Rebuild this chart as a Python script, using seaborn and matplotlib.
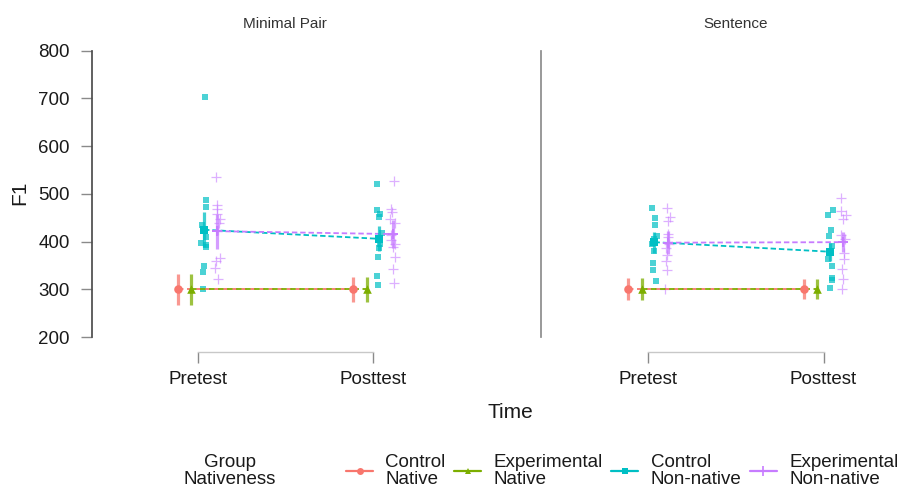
import numpy as np
import pandas as pd
import matplotlib
matplotlib.use("Agg")
import matplotlib.pyplot as plt
from matplotlib.lines import Line2D
from matplotlib.transforms import blended_transform_factory
import seaborn as sns

# ---------------- data ----------------
panels = ["Minimal Pair", "Sentence"]
times = ["Pretest", "Posttest"]
groups = ["Control\nNative", "Experimental\nNative", "Control\nNon-native", "Experimental\nNon-native"]

# raw F1 values (non-native learners)
mp_pre_control_nn = [703, 488, 472, 434, 425, 410, 398, 393, 388, 349, 336, 300]
mp_pre_exp_nn = [536, 476, 469, 457, 448, 439, 425, 366, 359, 344, 321]
mp_post_control_nn = [520, 466, 457, 452, 418, 405, 396, 386, 368, 328, 309]
mp_post_exp_nn = [527, 469, 462, 448, 439, 415, 403, 396, 389, 368, 342, 314]
s_pre_control_nn = [471, 449, 435, 412, 405, 401, 395, 380, 356, 340, 317]
s_pre_exp_nn = [471, 452, 443, 416, 409, 396, 387, 373, 359, 340, 301]
s_post_control_nn = [466, 455, 424, 412, 391, 377, 363, 350, 323, 319, 302]
s_post_exp_nn = [492, 464, 455, 448, 415, 405, 377, 364, 342, 321, 301]

# estimated means and CI half-widths (group order as in `groups`)
mp_mean_pre = [300, 300, 425, 422]
mp_mean_post = [300, 300, 406, 416]
mp_ci_pre = [33, 33, 37, 37]
mp_ci_post = [26, 26, 26, 30]
s_mean_pre = [300, 300, 399, 398]
s_mean_post = [300, 300, 379, 399]
s_ci_pre = [23, 23, 22, 24]
s_ci_post = [21, 21, 19, 21]

# ---------------- styles ----------------
colors = ["#F8766D", "#7CAE00", "#00BFC4", "#C77CFF"]
markers = ["o", "^", "s", "+"]
dodge = [-0.112, -0.037, 0.037, 0.112]
time_pos = {"Pretest": 1.0, "Posttest": 2.0}

raw_sets = {
    ("Minimal Pair", "Pretest", groups[2]): mp_pre_control_nn,
    ("Minimal Pair", "Pretest", groups[3]): mp_pre_exp_nn,
    ("Minimal Pair", "Posttest", groups[2]): mp_post_control_nn,
    ("Minimal Pair", "Posttest", groups[3]): mp_post_exp_nn,
    ("Sentence", "Pretest", groups[2]): s_pre_control_nn,
    ("Sentence", "Pretest", groups[3]): s_pre_exp_nn,
    ("Sentence", "Posttest", groups[2]): s_post_control_nn,
    ("Sentence", "Posttest", groups[3]): s_post_exp_nn,
}
rng = np.random.default_rng(7)
rows = []
for (p, t, g), vals in raw_sets.items():
    gi = groups.index(g)
    for v in vals:
        rows.append(dict(panel=p, time=t, group=g, F1=v,
                         x=time_pos[t] + dodge[gi] + rng.uniform(-0.016, 0.016)))
raw = pd.DataFrame(rows)

summ_rows = []
for p, mpre, mpost, cpre, cpost in [("Minimal Pair", mp_mean_pre, mp_mean_post, mp_ci_pre, mp_ci_post),
                                     ("Sentence", s_mean_pre, s_mean_post, s_ci_pre, s_ci_post)]:
    for gi, g in enumerate(groups):
        summ_rows.append(dict(panel=p, time="Pretest", group=g, mean=mpre[gi], ci=cpre[gi],
                              x=time_pos["Pretest"] + dodge[gi]))
        summ_rows.append(dict(panel=p, time="Posttest", group=g, mean=mpost[gi], ci=cpost[gi],
                              x=time_pos["Posttest"] + dodge[gi]))
summ = pd.DataFrame(summ_rows)

# ---------------- figure ----------------
sns.set_theme(style="white")
plt.rcParams["font.family"] = ["Liberation Sans", "DejaVu Sans"]

W, H = 901, 486
fig = plt.figure(figsize=(W / 100, H / 100), dpi=100)

ytop_px, ybot_px = 45, 352
y800_px, y200_px = 50.7, 337.2
ppu = (y200_px - y800_px) / 600.0
ylim = (200 - (ybot_px - y200_px) / ppu, 800 + (y800_px - ytop_px) / ppu)
xppu = 175.5

panel_geo = [(92, 478, 197.5), (541, 901, 648)]
axes = []
for (x0, x1, xpre) in panel_geo:
    ax = fig.add_axes([x0 / W, (H - ybot_px) / H, (x1 - x0) / W, (ybot_px - ytop_px) / H])
    xl = 1 - (xpre - x0) / xppu
    ax.set_xlim(xl, xl + (x1 - x0) / xppu)
    ax.set_ylim(*ylim)
    axes.append(ax)

palette = dict(zip(groups, colors))
for ax, p in zip(axes, panels):
    r = raw[raw.panel == p]
    s = summ[summ.panel == p]
    # raw points
    sns.scatterplot(data=r[r.group == groups[2]], x="x", y="F1", color=colors[2], marker="s",
                    s=18, alpha=0.7, linewidth=0, ax=ax, legend=False, zorder=2)
    sns.scatterplot(data=r[r.group == groups[3]], x="x", y="F1", color=colors[3], marker="+",
                    s=42, alpha=0.6, linewidth=0.9, ax=ax, legend=False, zorder=2)
    # mean lines
    sns.lineplot(data=s, x="x", y="mean", hue="group", palette=palette, style="group",
                 dashes={groups[0]: (3, 2), groups[1]: (3, 2), groups[2]: (3, 1.6), groups[3]: (3, 1.6)},
                 estimator=None, sort=True, linewidth=1.3, ax=ax, legend=False, zorder=3)
    # error bars
    for gi, g in enumerate(groups):
        sg = s[s.group == g]
        ax.vlines(sg.x, sg["mean"] - sg.ci, sg["mean"] + sg.ci, color=colors[gi], lw=2.3,
                  alpha=0.75, zorder=4)
    # mean markers
    for gi, g in enumerate(groups):
        sg = s[s.group == g]
        if markers[gi] == "+":
            sns.scatterplot(data=sg, x="x", y="mean", color=colors[gi], marker="+", s=60,
                            linewidth=1.4, ax=ax, legend=False, zorder=5)
        else:
            sns.scatterplot(data=sg, x="x", y="mean", color=colors[gi], marker=markers[gi],
                            s=38, linewidth=0, ax=ax, legend=False, zorder=5)

    ax.set_xlabel("")
    ax.set_ylabel("")
    for sp in ["top", "right"]:
        ax.spines[sp].set_visible(False)
    ax.spines["bottom"].set_bounds(1, 2)
    ax.spines["bottom"].set_color("#c8c8c8")
    ax.spines["bottom"].set_linewidth(1.0)
    ax.spines["left"].set_bounds(200, 800)
    ax.set_xticks([1, 2])
    ax.set_xticklabels(times)
    ax.set_yticks(list(range(200, 801, 100)))
    ax.tick_params(axis="x", length=8, width=1, color="#8a8a8a", pad=6,
                   labelsize=13.5, labelcolor="#1a1a1a", bottom=True)
    tr = blended_transform_factory(ax.transData, fig.transFigure)
    ax.text(1.5, 1 - 24 / H, p, transform=tr, ha="center", va="center",
            fontsize=11, color="#333333")

axes[0].spines["left"].set_color("#4d4d4d")
axes[0].tick_params(axis="y", length=8, width=1, color="#8a8a8a", pad=8,
                    labelsize=13.5, labelcolor="#1a1a1a", left=True)
axes[1].spines["left"].set_color("#8c8c8c")
axes[1].tick_params(axis="y", left=False, labelleft=False)

fig.text(20 / W, 1 - 193 / H, "F1", rotation=90, ha="center", va="center",
         fontsize=15, color="#1a1a1a")
fig.text(510 / W, 1 - 412 / H, "Time", ha="center", va="center",
         fontsize=15, color="#1a1a1a")

# legend
handles = [Line2D([0], [0], color=c, marker=m, markersize=5 if m != "+" else 7,
                  markeredgewidth=1.2 if m == "+" else 0, lw=1.6)
           for c, m in zip(colors, markers)]
leg = fig.legend(handles, groups, loc="center left", bbox_to_anchor=(346 / W, 1 - 471 / H),
                 ncol=4, frameon=False, handlelength=1.45, handletextpad=0.65,
                 columnspacing=0.45, fontsize=13.5, borderpad=0, borderaxespad=0)
for t in leg.get_texts():
    t.set_linespacing(0.95)
    t.set_color("#1a1a1a")
fig.text(230 / W, 1 - 471 / H, "Group\nNativeness", ha="center", va="center",
         fontsize=13.5, linespacing=0.95, color="#1a1a1a")

fig.savefig("out.png", dpi=100)
